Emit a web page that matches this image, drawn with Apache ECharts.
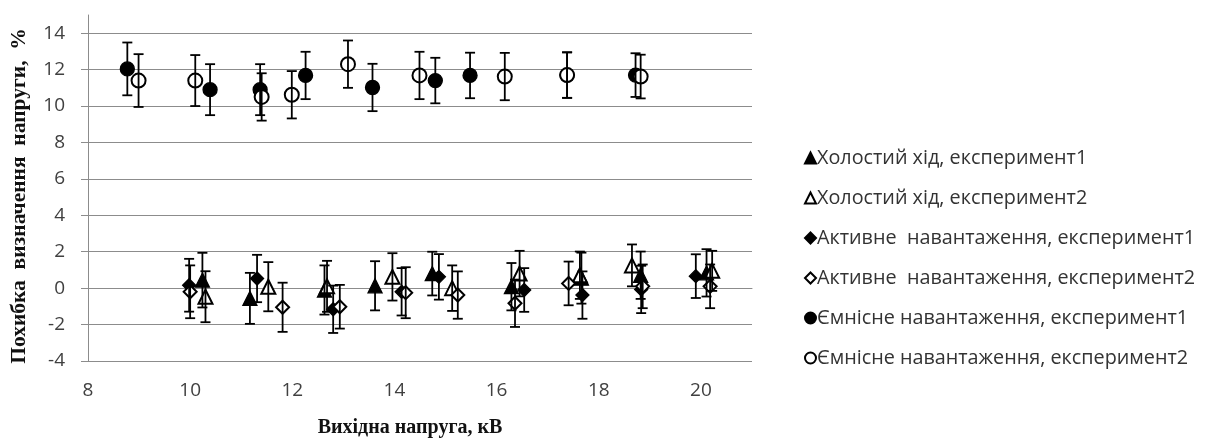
<!DOCTYPE html>
<html>
<head>
<meta charset="utf-8">
<script src="https://cdn.jsdelivr.net/npm/echarts@6/dist/echarts.min.js"></script>
<style>
  html, body { margin: 0; padding: 0; background: #fff; }
  #chart { width: 1211px; height: 443px; }
</style>
</head>
<body>
<div id="chart"></div>
<script>
// Series names (legend order)
const seriesNames = [
  'Холостий хід, експеримент1',
  'Холостий хід, експеримент2',
  'Активне  навантаження, експеримент1',
  'Активне  навантаження, експеримент2',
  'Ємнісне навантаження, експеримент1',
  'Ємнісне навантаження, експеримент2'
];
const seriesSymbols = ['triangle', 'emptyTriangle', 'diamond', 'emptyDiamond', 'circle', 'emptyCircle'];

// Холостий хід, експеримент1
const idle1X = [10.24, 11.17, 12.63, 13.62, 14.74, 16.29, 17.66, 18.82, 20.11];
const idle1Y = [0.44, -0.56, -0.10, 0.13, 0.80, 0.08, 0.55, 0.71, 0.84];
const idle1Err = [1.5, 1.4, 1.35, 1.35, 1.2, 1.3, 1.4, 1.3, 1.3];

// Холостий хід, експеримент2
const idle2X = [10.30, 11.53, 12.68, 13.96, 15.13, 16.45, 17.63, 18.65, 20.22];
const idle2Y = [-0.47, 0.08, 0.10, 0.62, 0.00, 0.80, 0.71, 1.25, 0.95];
const idle2Err = [1.4, 1.35, 1.4, 1.3, 1.25, 1.25, 1.3, 1.15, 1.1];

// Активне навантаження, експеримент1
const active1X = [9.98, 11.31, 12.80, 14.14, 14.87, 16.54, 17.68, 18.83, 19.90];
const active1Y = [0.16, 0.53, -1.16, -0.20, 0.62, -0.10, -0.38, -0.07, 0.66];
const active1Err = [1.45, 1.3, 1.3, 1.3, 1.25, 1.2, 1.3, 1.3, 1.2];

// Активне навантаження, експеримент2
const active2X = [10.00, 11.81, 12.93, 14.22, 15.24, 16.36, 17.41, 18.86, 20.18];
const active2Y = [-0.20, -1.05, -1.02, -0.25, -0.38, -0.83, 0.26, 0.10, 0.10];
const active2Err = [1.45, 1.35, 1.2, 1.4, 1.3, 1.3, 1.2, 1.2, 1.2];

// Ємнісне навантаження, експеримент1
const cap1X = [8.77, 10.39, 11.37, 12.26, 13.57, 14.80, 15.48, 17.38, 18.72];
const cap1Y = [12.04, 10.90, 10.90, 11.68, 11.02, 11.40, 11.68, 11.70, 11.70];
const cap1Err = [1.45, 1.4, 1.4, 1.3, 1.3, 1.25, 1.25, 1.25, 1.2];

// Ємнісне навантаження, експеримент2
const cap2X = [8.99, 10.10, 11.40, 11.99, 13.09, 14.49, 16.16, 17.38, 18.82];
const cap2Y = [11.40, 11.40, 10.50, 10.62, 12.30, 11.68, 11.62, 11.70, 11.62];
const cap2Err = [1.45, 1.4, 1.3, 1.3, 1.3, 1.3, 1.3, 1.25, 1.2];

const allX = [idle1X, idle2X, active1X, active2X, cap1X, cap2X];
const allY = [idle1Y, idle2Y, active1Y, active2Y, cap1Y, cap2Y];
const allErr = [idle1Err, idle2Err, active1Err, active2Err, cap1Err, cap2Err];

const axisFont = { fontFamily: 'Open Sans', fontSize: 19, color: '#404040' };
const gridGrey = '#8c8c8c';

function errorBars(name, xs, ys, errs) {
  return {
    type: 'custom',
    name: name + ' (похибка)',
    z: 5,
    silent: true,
    data: xs.map((x, i) => [x, ys[i] - errs[i], ys[i] + errs[i]]),
    encode: { x: 0, y: [1, 2] },
    renderItem: function (params, api) {
      const lo = api.coord([api.value(0), api.value(1)]);
      const hi = api.coord([api.value(0), api.value(2)]);
      const w = 5;
      const st = () => ({ stroke: '#000', lineWidth: 1.8 });
      return {
        type: 'group',
        children: [
          { type: 'line', shape: { x1: lo[0], y1: lo[1], x2: hi[0], y2: hi[1] }, style: st() },
          { type: 'line', shape: { x1: lo[0] - w, y1: lo[1], x2: lo[0] + w, y2: lo[1] }, style: st() },
          { type: 'line', shape: { x1: hi[0] - w, y1: hi[1], x2: hi[0] + w, y2: hi[1] }, style: st() }
        ]
      };
    }
  };
}

const series = [];
seriesNames.forEach((name, k) => {
  const sym = seriesSymbols[k];
  series.push({
    type: 'scatter',
    name: name,
    z: 3,
    symbol: sym,
    symbolSize: sym.indexOf('iamond') >= 0 ? 13 : 14,
    itemStyle: { color: '#000', borderColor: '#000', borderWidth: 1.3, opacity: 1 },
    data: allX[k].map((x, i) => [x, allY[k][i]])
  });
  series.push(errorBars(name, allX[k], allY[k], allErr[k]));
});

const chart = echarts.init(document.getElementById('chart'));
chart.setOption({
  animation: false,
  backgroundColor: '#fff',
  grid: { left: 88, right: 459, top: 15, bottom: 80, containLabel: false },
  legend: {
    data: seriesNames,
    orient: 'vertical',
    left: 799,
    top: 143,
    itemWidth: 11,
    itemHeight: 11,
    itemGap: 20,
    selectedMode: false,
    textStyle: { fontFamily: 'Open Sans', fontSize: 19.8, color: '#333', lineHeight: 19, padding: [0, 0, 0, -4] }
  },
  xAxis: {
    type: 'value',
    min: 8,
    max: 21,
    interval: 2,
    name: 'Вихідна напруга, кВ',
    nameLocation: 'middle',
    nameGap: 57,
    nameTextStyle: { fontFamily: 'Liberation Serif', fontWeight: 'bold', fontSize: 20, color: '#111', padding: [0, 20, 0, 0] },
    axisLine: { show: true, lineStyle: { color: gridGrey } },
    axisTick: { show: false },
    splitLine: { show: false },
    axisLabel: Object.assign({ margin: 20, showMaxLabel: false }, axisFont)
  },
  yAxis: {
    type: 'value',
    min: -4,
    max: 15,
    interval: 2,
    name: 'Похибка  визначення  напруги,  %',
    nameLocation: 'middle',
    nameGap: 58,
    nameTextStyle: { fontFamily: 'Liberation Serif', fontWeight: 'bold', fontSize: 21.5, color: '#111', padding: [0, 16, 0, 0] },
    axisLine: { show: true, lineStyle: { color: gridGrey } },
    axisTick: { show: true, length: 7, lineStyle: { color: gridGrey } },
    splitLine: { show: true, showMaxLine: false, lineStyle: { color: gridGrey, width: 1 } },
    axisLabel: Object.assign({ margin: 23, showMaxLabel: false }, axisFont)
  },
  series: series
});
window.addEventListener('resize', () => chart.resize());
</script>
</body>
</html>
